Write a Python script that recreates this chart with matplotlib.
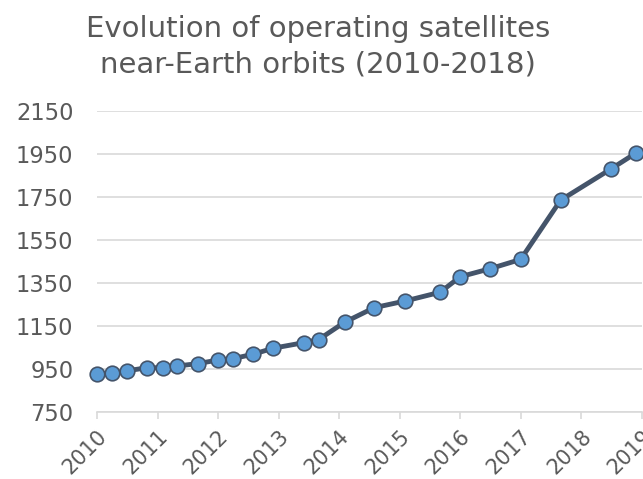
import matplotlib.pyplot as plt
import numpy as np

# satellite counts (x as fractional year)
years = [2010.0, 2010.25, 2010.5, 2010.83, 2011.09, 2011.32, 2011.66, 2012.0,
         2012.24, 2012.58, 2012.91, 2013.42, 2013.66, 2014.09, 2014.58, 2015.09,
         2015.67, 2016.0, 2016.5, 2017.0, 2017.66, 2018.5, 2018.9]
satellites = [924, 929, 941, 955, 955, 963, 974, 991,
              997, 1018, 1046, 1072, 1086, 1167, 1235, 1266,
              1307, 1379, 1417, 1460, 1736, 1883, 1955]
xticks = list(range(2010, 2020))
yticks = list(range(750, 2151, 200))
title_lines = ['Evolution of operating satellites', 'near-Earth orbits (2010-2018)']

plt.rcParams['font.family'] = ['DejaVu Sans']
text_color = '#595959'
grid_color = '#D9D9D9'

fig = plt.figure(figsize=(6.43, 4.79), dpi=100)
ax = fig.add_axes([0.151, 0.1405, 0.847, 0.627])

ax.plot(years, satellites, '-o', color='#44546A', linewidth=3.5,
        markersize=10.5, markerfacecolor='#5B9BD5', markeredgecolor='#44546A',
        markeredgewidth=1.2, zorder=3, clip_on=False)

ax.set_xlim(2010, 2019)
ax.set_ylim(750, 2150)
ax.set_yticks(yticks)
ax.set_xticks(xticks)
ax.set_xticklabels([str(t) for t in xticks], rotation=45, ha='right',
                   rotation_mode='anchor')
ax.grid(axis='y', color=grid_color, linewidth=1.2)
ax.set_axisbelow(True)

for s in ['top', 'right', 'left']:
    ax.spines[s].set_visible(False)
ax.spines['bottom'].set_color(grid_color)
ax.spines['bottom'].set_linewidth(1.2)

ax.tick_params(axis='y', length=0, labelsize=16.3, labelcolor=text_color, pad=17)
ax.tick_params(axis='x', length=4.7, width=1.2, color=grid_color,
               labelsize=15, labelcolor=text_color, pad=6)

fig.text(0.495, 0.9234, title_lines[0], ha='center', va='baseline',
         fontsize=21, color=text_color)
fig.text(0.495, 0.8482, title_lines[1], ha='center', va='baseline',
         fontsize=21, color=text_color)

fig.savefig('out.png', dpi=100)
